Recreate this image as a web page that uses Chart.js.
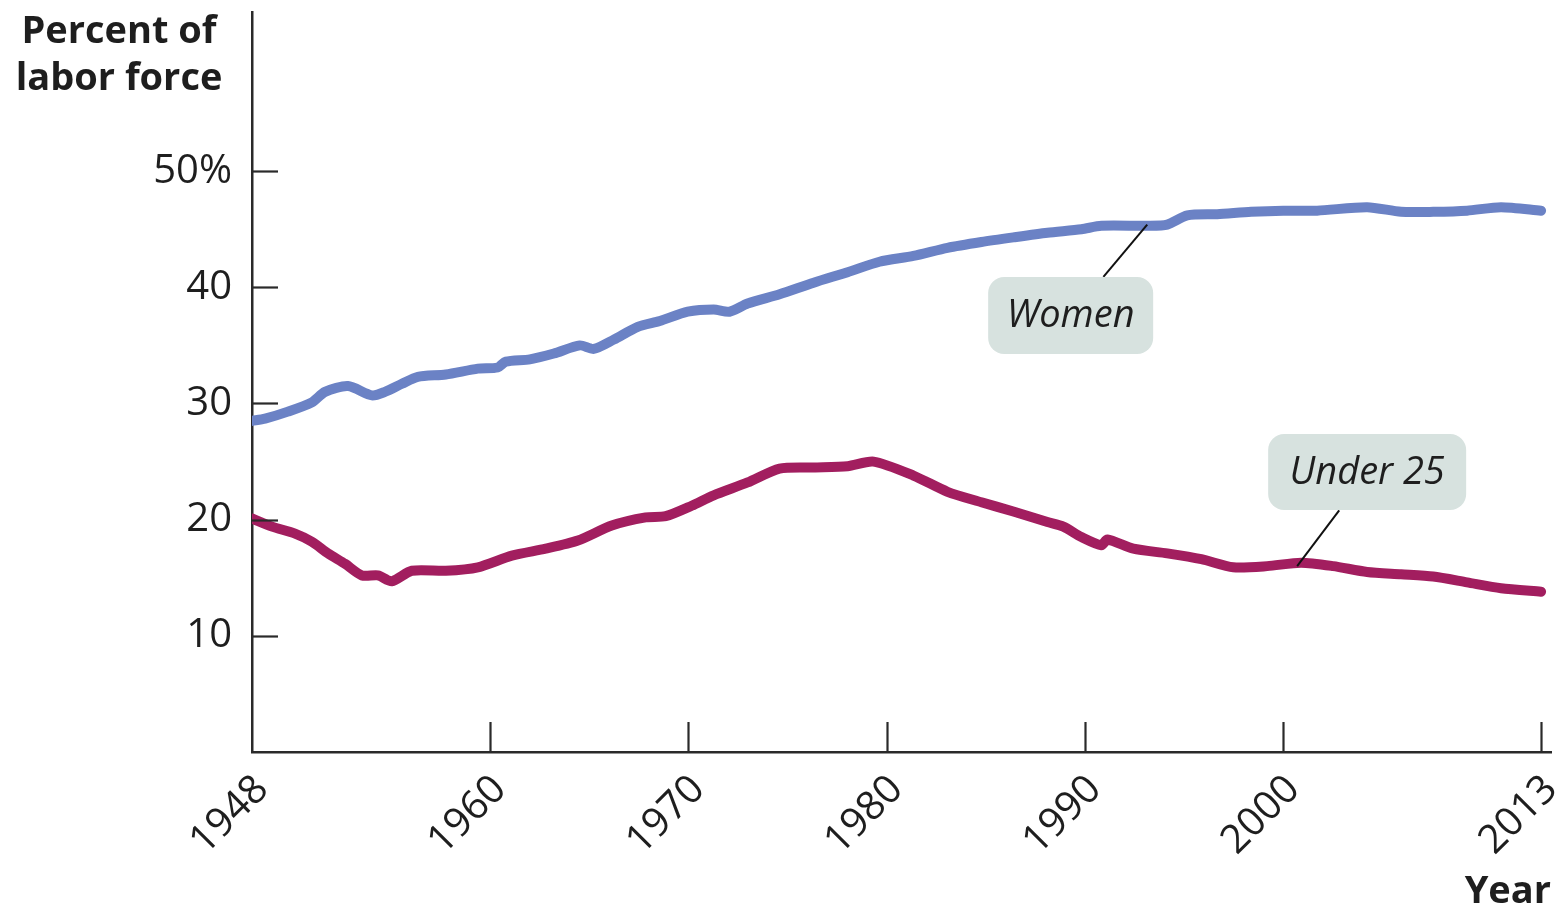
<!DOCTYPE html>
<html>
<head>
<meta charset="utf-8">
<script src="https://cdn.jsdelivr.net/npm/chart.js@4.4.1/dist/chart.umd.min.js"></script>
<style>
html,body{margin:0;padding:0;background:#ffffff;}
#wrap{width:1561px;height:911px;position:relative;}
</style>
</head>
<body>
<div id="wrap"><canvas id="c" width="1561" height="911"></canvas></div>
<script>
// ---- Data ----
const womenYears = [1948.0,1948.66,1949.81,1951.02,1951.68,1952.84,1954.05,1954.70,1955.56,1956.36,1957.77,1959.39,1960.39,1960.80,1962.01,1963.22,1964.53,1965.23,1966.24,1967.45,1968.56,1969.97,1971.28,1972.08,1972.99,1974.60,1976.32,1978.03,1979.64,1981.35,1983.07,1984.78,1986.39,1988.11,1989.82,1990.83,1993.14,1994.15,1995.16,1996.67,1998.38,2000.00,2001.71,2004.23,2005.94,2007.56,2009.27,2010.98,2013.0];
const womenValues = [28.5,28.7,29.3,30.1,31.0,31.5,30.7,31.0,31.7,32.3,32.5,33.0,33.1,33.6,33.8,34.3,35.0,34.7,35.5,36.6,37.1,37.9,38.1,37.9,38.6,39.4,40.4,41.3,42.2,42.7,43.4,43.9,44.3,44.7,45.0,45.3,45.3,45.4,46.2,46.3,46.5,46.6,46.6,46.9,46.5,46.5,46.6,46.9,46.6];

const under25Years = [1948.0,1949.01,1950.17,1951.02,1951.83,1952.69,1953.54,1954.35,1955.05,1956.06,1957.77,1959.39,1961.10,1962.81,1964.43,1966.14,1967.85,1968.86,1970.17,1971.28,1972.99,1974.60,1976.32,1978.03,1979.34,1981.35,1983.07,1984.78,1986.39,1988.11,1988.91,1989.82,1990.83,1991.13,1992.44,1994.15,1995.87,1997.48,1999.19,2000.90,2002.52,2004.23,2005.94,2007.56,2009.27,2010.98,2013.0];
const under25Values = [20.1,19.4,18.8,18.1,17.1,16.2,15.2,15.2,14.7,15.6,15.6,15.9,16.9,17.5,18.2,19.5,20.2,20.3,21.2,22.1,23.2,24.4,24.5,24.6,25.0,23.8,22.4,21.5,20.7,19.8,19.4,18.5,17.8,18.3,17.5,17.1,16.6,15.9,16.0,16.3,16.0,15.5,15.3,15.1,14.6,14.1,13.8];

const seriesNames = ['Women', 'Under 25'];
const xTickYears = [1948, 1960, 1970, 1980, 1990, 2000, 2013];
const yTickValues = [10, 20, 30, 40, 50];
const yAxisTitleLines = ['Percent of', 'labor force'];
const xAxisTitle = 'Year';

// ---- Styles / annotation placement (in data units) ----
const COLORS = { women: '#6b82c5', under25: '#a21e5f', axis: '#2a2a2a', text: '#1e1e1e', box: '#d7e2df' };
const FONT = '"Open Sans", "Noto Sans", sans-serif';
const callouts = [
  { text: seriesNames[0], cx: 1989.28, cy: 37.57, w: 165, h: 77, from: [1990.93, 40.9], to: [1993.14, 45.4] },
  { text: seriesNames[1], cx: 2004.23, cy: 24.1, w: 198, h: 76, from: [2002.82, 20.8], to: [2000.70, 16.0] }
];

function toPoints(xs, ys) { return xs.map((x, i) => ({ x: x, y: ys[i] })); }

const overlayPlugin = {
  id: 'overlay',
  afterDatasetsDraw(chart) {
    const ctx = chart.ctx;
    const xs = chart.scales.x, ys = chart.scales.y;
    const area = chart.chartArea;
    ctx.save();
    // inner tick marks
    ctx.strokeStyle = COLORS.axis;
    ctx.lineWidth = 2.2;
    xTickYears.forEach(v => {
      if (v === xs.min) return;
      const px = Math.round(xs.getPixelForValue(v)) + 0.5;
      ctx.beginPath(); ctx.moveTo(px, area.bottom); ctx.lineTo(px, area.bottom - 30); ctx.stroke();
    });
    yTickValues.forEach(v => {
      const py = Math.round(ys.getPixelForValue(v)) + 0.5;
      ctx.beginPath(); ctx.moveTo(area.left, py); ctx.lineTo(area.left + 26, py); ctx.stroke();
    });
    // callouts
    callouts.forEach(c => {
      const cx = xs.getPixelForValue(c.cx), cy = ys.getPixelForValue(c.cy);
      ctx.strokeStyle = '#111';
      ctx.lineWidth = 2;
      ctx.beginPath();
      ctx.moveTo(xs.getPixelForValue(c.from[0]), ys.getPixelForValue(c.from[1]));
      ctx.lineTo(xs.getPixelForValue(c.to[0]), ys.getPixelForValue(c.to[1]));
      ctx.stroke();
      ctx.fillStyle = COLORS.box;
      ctx.beginPath();
      ctx.roundRect(cx - c.w / 2, cy - c.h / 2, c.w, c.h, 16);
      ctx.fill();
      ctx.fillStyle = COLORS.text;
      ctx.font = 'italic 38px ' + FONT;
      ctx.textAlign = 'center';
      ctx.textBaseline = 'middle';
      ctx.fillText(c.text, cx, cy + 1);
    });
    // axis titles
    ctx.fillStyle = COLORS.text;
    ctx.font = 'bold 38px ' + FONT;
    ctx.textAlign = 'center';
    ctx.textBaseline = 'alphabetic';
    ctx.fillText(yAxisTitleLines[0], 119, 43);
    ctx.fillText(yAxisTitleLines[1], 119, 90);
    ctx.textAlign = 'right';
    ctx.fillText(xAxisTitle, area.right, 903);
    ctx.restore();
  }
};

new Chart(document.getElementById('c'), {
  type: 'line',
  data: {
    datasets: [
      { label: seriesNames[0], data: toPoints(womenYears, womenValues), borderColor: COLORS.women, borderWidth: 10,
        pointRadius: 0, tension: 0.25, borderCapStyle: 'round', borderJoinStyle: 'round', fill: false },
      { label: seriesNames[1], data: toPoints(under25Years, under25Values), borderColor: COLORS.under25, borderWidth: 10,
        pointRadius: 0, tension: 0.25, borderCapStyle: 'round', borderJoinStyle: 'round', fill: false }
    ]
  },
  options: {
    responsive: false,
    animation: false,
    devicePixelRatio: 1,
    layout: { padding: { top: 12, right: 10, left: 0, bottom: 0 } },
    plugins: { legend: { display: false }, tooltip: { enabled: false }, title: { display: false } },
    scales: {
      x: {
        type: 'linear', position: 'bottom', min: 1948, max: 2013.5,
        afterFit(s) { s.height = 159; s.paddingLeft = 0; s.paddingRight = 0; },
        afterBuildTicks(s) { s.ticks = xTickYears.map(v => ({ value: v })); },
        grid: { display: false, drawTicks: false },
        border: { display: true, color: COLORS.axis, width: 2.5 },
        ticks: {
          autoSkip: false, minRotation: 45, maxRotation: 45, padding: 14, labelOffset: 10,
          color: COLORS.text, font: { family: FONT, size: 40 },
          callback: v => String(v)
        }
      },
      y: {
        type: 'linear', position: 'left', min: 0, max: 63.7,
        afterFit(s) { s.width = 252; s.paddingTop = 0; s.paddingBottom = 0; },
        afterBuildTicks(s) { s.ticks = yTickValues.map(v => ({ value: v })); },
        grid: { display: false, drawTicks: false },
        border: { display: true, color: COLORS.axis, width: 2.5 },
        ticks: {
          padding: 20, color: COLORS.text, font: { family: FONT, size: 40 },
          callback: v => (v === 50 ? '50%' : String(v))
        }
      }
    }
  },
  plugins: [overlayPlugin]
});
</script>
</body>
</html>
